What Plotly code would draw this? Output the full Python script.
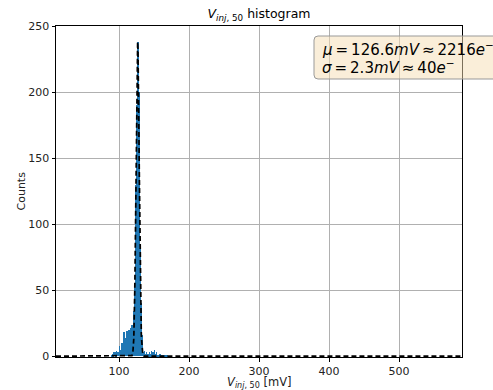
import numpy as np
import plotly.graph_objects as go

# Histogram data (1 mV bins), bin left edges start at 88 mV
bin_start = 88
bin_width = 1.0
counts = [0, 1, 2, 1, 3,
          2, 3, 1, 4, 2, 3, 2,
          8, 3, 5, 2, 10, 6,
          12, 18, 14, 9, 16, 19, 13,
          17, 20, 15, 18, 21, 24, 19, 22,
          34, 55, 92, 130, 190, 232, 238, 200, 140, 82, 40, 16, 6,
          3, 2, 4, 1, 2, 3, 1, 2, 1, 3, 2, 1, 4, 2, 3, 1,
          5, 2, 1, 3, 1,
          1, 0, 1, 2, 0, 1, 0, 1, 0, 0, 1, 0, 0, 1, 0]

# Gaussian fit parameters
fit_mu = 126.6
fit_sigma = 2.3
fit_amp = 238.0
fit_xmin, fit_xmax = 10, 590

ts = "\u2009"
mu_text = f"<i>μ</i>{ts}={ts}126.6<i>mV</i>{ts}≈{ts}2216<i>e</i><sup>−</sup>"
sigma_text = f"<i>σ</i>{ts}={ts}2.3<i>mV</i>{ts}≈{ts}40<i>e</i><sup>−</sup>"

x_ticks = [100, 200, 300, 400, 500]
y_ticks = [0, 50, 100, 150, 200, 250]

bin_centers = bin_start + bin_width * (np.arange(len(counts)) + 0.5)
xf = np.linspace(fit_xmin, fit_xmax, 3000)
yf = fit_amp * np.exp(-(xf - fit_mu) ** 2 / (2 * fit_sigma ** 2))

fig = go.Figure()
fig.add_trace(go.Bar(x=bin_centers, y=counts, width=bin_width,
                     marker=dict(color="#1f77b4", line=dict(width=0)),
                     showlegend=False))
fig.add_trace(go.Scatter(x=xf, y=yf, mode="lines",
                         line=dict(color="black", width=1.7, dash="5px,3px"),
                         showlegend=False))

font = "DejaVu Sans"
L, R, T, B = 56, 462, 26, 357
W, H = R - L, B - T


def px(x):
    return (x - L) / W


def py(y):
    return 1 - (y - T) / H


fig.update_layout(
    width=493, height=390,
    margin=dict(l=L, r=493 - R, t=T, b=390 - B, autoexpand=False),
    plot_bgcolor="white", paper_bgcolor="white",
    bargap=0,
    font=dict(family=font, size=11, color="#222"),
    title=dict(text="<i>V</i><sub><i>inj</i>, 50</sub> histogram",
               x=(L + W / 2) / 493, xanchor="center", y=1 - 14 / 390, yanchor="middle",
               font=dict(size=12.5, color="black")),
    xaxis=dict(range=[10, 590], tickvals=x_ticks, showgrid=True, gridcolor="#b0b0b0",
               gridwidth=0.8, showline=True, linecolor="black", linewidth=1, mirror=True,
               ticks="outside", ticklen=3.5, tickcolor="black", zeroline=False,
               automargin=False),
    yaxis=dict(range=[-0.6, 250], tickvals=y_ticks, showgrid=True, gridcolor="#b0b0b0",
               gridwidth=0.8, showline=True, linecolor="black", linewidth=1, mirror=True,
               ticks="outside", ticklen=3.5, tickcolor="black", zeroline=False,
               automargin=False),
)

# axis titles
fig.add_annotation(xref="paper", yref="paper", x=0.5, y=py(382), xanchor="center",
                   yanchor="middle", showarrow=False,
                   text="<i>V</i><sub><i>inj</i>, 50</sub> [mV]",
                   font=dict(family=font, size=11.5, color="#222"))
fig.add_annotation(xref="paper", yref="paper", x=px(21), y=0.5, xanchor="center",
                   yanchor="middle", showarrow=False, textangle=-90,
                   text="Counts", font=dict(family=font, size=11, color="#222"))

# rounded box (paper coords built from pixel positions)
bx0, bx1, by0, by1, r = 314, 505, 36, 79, 4
path = (f"M {px(bx0 + r)} {py(by0)} L {px(bx1 - r)} {py(by0)} "
        f"Q {px(bx1)} {py(by0)} {px(bx1)} {py(by0 + r)} L {px(bx1)} {py(by1 - r)} "
        f"Q {px(bx1)} {py(by1)} {px(bx1 - r)} {py(by1)} L {px(bx0 + r)} {py(by1)} "
        f"Q {px(bx0)} {py(by1)} {px(bx0)} {py(by1 - r)} L {px(bx0)} {py(by0 + r)} "
        f"Q {px(bx0)} {py(by0)} {px(bx0 + r)} {py(by0)} Z")
fig.add_shape(type="path", xref="paper", yref="paper", path=path,
              fillcolor="rgba(245,222,179,0.5)", line=dict(color="#999", width=1),
              layer="above")

for txt, yc in [(mu_text, 49), (sigma_text, 67)]:
    fig.add_annotation(xref="paper", yref="paper", x=px(320), y=py(yc),
                       xanchor="left", yanchor="middle", align="left",
                       text=txt, showarrow=False,
                       font=dict(family=font, size=15, color="black"))

fig.write_html("out.html")
